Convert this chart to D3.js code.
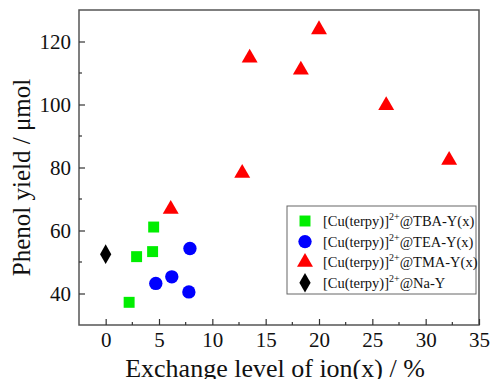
<!DOCTYPE html>
<meta charset="utf-8">
<script src="https://d3js.org/d3.v7.min.js"></script>
<style>
  body { margin: 0; background: #fff; }
  text { font-family: 'Liberation Serif', 'Times New Roman', serif; fill: #111; }
</style>
<div id="chart"></div>
<script>
// exchange level (%) and phenol yield (umol)
var tbaX = [2.2, 2.9, 4.4, 4.5];
var tbaY = [37.2, 51.7, 53.3, 61.1];
var teaX = [4.7, 6.2, 7.8, 7.9];
var teaY = [43.2, 45.3, 40.5, 54.3];
var tmaX = [6.1, 12.8, 13.5, 18.3, 20.0, 26.3, 32.2];
var tmaY = [66.8, 78.2, 114.8, 111.0, 123.8, 99.7, 82.3];
var naX = [0];
var naY = [52.5];

var xTicks = [0, 5, 10, 15, 20, 25, 30, 35];
var yTicks = [40, 60, 80, 100, 120];

var series = [
  {name: "@TBA-Y(x)", xs: tbaX, ys: tbaY, color: "#00ee00", shape: d3.symbolSquare, size: 120},
  {name: "@TEA-Y(x)", xs: teaX, ys: teaY, color: "#0000ff", shape: d3.symbolCircle, size: 140},
  {name: "@TMA-Y(x)", xs: tmaX, ys: tmaY, color: "#ff0000", shape: d3.symbolTriangle, size: 110},
  {name: "@Na-Y", xs: naX, ys: naY, color: "#000000", shape: d3.symbolDiamond, size: 110}
];

var W = 491, H = 379;
var margin = {top: 10, right: 12, bottom: 54, left: 79};
var width = W - margin.left - margin.right,
    height = H - margin.top - margin.bottom;

var svg = d3.select("#chart").append("svg")
    .attr("width", W)
    .attr("height", H);

var g = svg.append("g")
    .attr("transform", "translate(" + margin.left + "," + margin.top + ")");

var x = d3.scaleLinear().domain([-2.5, 35]).range([0, width]);
var y = d3.scaleLinear().domain([30, 130]).range([height, 0]);

// frame
g.append("rect")
    .attr("width", width)
    .attr("height", height)
    .attr("fill", "none")
    .attr("stroke", "#555")
    .attr("stroke-width", 1.5);

// minor ticks (inward)
var xMinor = d3.range(2.5, 35, 5);
var yMinor = d3.range(50, 130, 20);

g.append("g").selectAll("line").data(xMinor).enter().append("line")
    .attr("x1", function(d) { return x(d); }).attr("x2", function(d) { return x(d); })
    .attr("y1", height).attr("y2", height - 3)
    .attr("stroke", "#333").attr("stroke-width", 1.2);
g.append("g").selectAll("line").data(yMinor).enter().append("line")
    .attr("y1", function(d) { return y(d); }).attr("y2", function(d) { return y(d); })
    .attr("x1", 0).attr("x2", 3)
    .attr("stroke", "#333").attr("stroke-width", 1.2);

// axes
var xAxis = g.append("g")
    .attr("transform", "translate(0," + height + ")")
    .call(d3.axisBottom(x).tickValues(xTicks).tickSizeInner(-6).tickSizeOuter(0).tickPadding(7));
var yAxis = g.append("g")
    .call(d3.axisLeft(y).tickValues(yTicks).tickSizeInner(-6).tickSizeOuter(0).tickPadding(8));

[xAxis, yAxis].forEach(function(a) {
  a.attr("font-family", "'Liberation Serif', serif");
  a.select(".domain").remove();
  a.selectAll(".tick line").attr("stroke", "#333").attr("stroke-width", 1.2);
  a.selectAll(".tick text")
    .style("font-size", "21px")
    .attr("fill", "#111");
});

// points
series.forEach(function(s) {
  g.append("g").selectAll("path")
    .data(s.xs.map(function(v, i) { return [v, s.ys[i]]; }))
    .enter().append("path")
      .attr("transform", function(d) { return "translate(" + x(d[0]) + "," + y(d[1]) + ")"; })
      .attr("d", d3.symbol().type(s.shape).size(s.size))
      .attr("fill", s.color);
});

// axis titles
svg.append("text")
    .attr("x", 275)
    .attr("y", H - 2)
    .attr("text-anchor", "middle")
    .style("font-size", "26px")
    .text("Exchange level of ion(x) / %");

svg.append("text")
    .attr("transform", "translate(30," + (margin.top + height / 2 + 10) + ") rotate(-90)")
    .attr("text-anchor", "middle")
    .style("font-size", "25px")
    .text("Phenol yield / \u03bcmol");

// legend
var lg = svg.append("g").attr("transform", "translate(287,206)");
lg.append("rect")
    .attr("width", 189).attr("height", 88)
    .attr("fill", "#fff")
    .attr("stroke", "#666").attr("stroke-width", 1);

var row = lg.selectAll(".row").data(series).enter().append("g")
    .attr("class", "row")
    .attr("transform", function(d, i) { return "translate(0," + (15 + i * 20.6) + ")"; });

row.append("path")
    .attr("transform", "translate(18,0)")
    .attr("d", function(d) { return d3.symbol().type(d.shape).size(d.size)(); })
    .attr("fill", function(d) { return d.color; });

var lt = row.append("text")
    .attr("x", 36)
    .attr("y", 5)
    .style("font-size", "14.5px");
lt.append("tspan").text("[Cu(terpy)]");
lt.append("tspan").attr("dy", -6).style("font-size", "10px").text("2+");
lt.append("tspan").attr("dy", 6).text(function(d) { return d.name; });
</script>
